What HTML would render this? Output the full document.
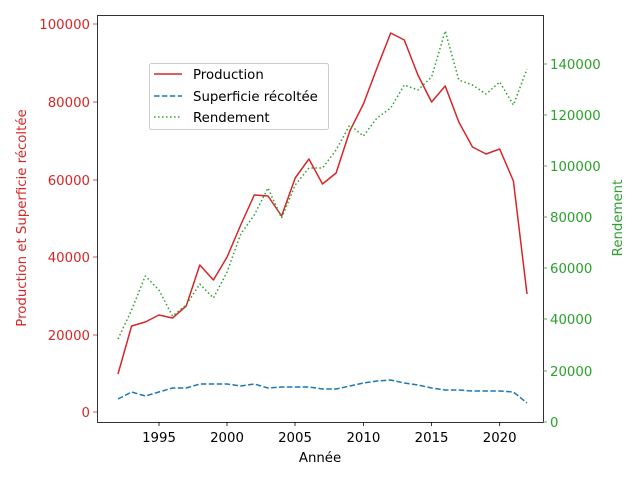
<!DOCTYPE html>
<html><head><meta charset="utf-8"><style>body{margin:0;background:#fff}svg{display:block}text{font-family:"DejaVu Sans","Liberation Sans",sans-serif;font-size:13.3px}</style></head><body>
<svg width="640" height="480" viewBox="0 0 640 480">
<rect width="640" height="480" fill="#fff"/>
<g fill="none" stroke-width="1.5" stroke-linejoin="round">
<polyline stroke="#d62728" points="118,374 131.6,326 145.3,322 158.9,315 172.5,318 186.2,306 199.8,265 213.4,280 227.1,257 240.7,225 254.3,195 268,196 281.6,216 295.2,178 308.9,159 322.5,184 336.1,173 349.8,131 363.4,104 377,68 390.7,33 404.3,40 417.9,75 431.6,102 445.2,86 458.8,122 472.5,147 486.1,154 499.7,149 513.4,181 527,294"/>
<polyline stroke="#1f77b4" stroke-dasharray="5.5,2.4" points="118,399 131.6,392 145.3,396 158.9,392 172.5,388 186.2,388 199.8,384 213.4,384 227.1,384 240.7,386 254.3,384 268,388 281.6,387 295.2,387 308.9,387 322.5,389 336.1,389 349.8,386 363.4,383 377,381 390.7,380 404.3,383 417.9,385 431.6,388 445.2,390 458.8,390 472.5,391 486.1,391 499.7,391 513.4,392 527,403"/>
<polyline stroke="#2ca02c" stroke-dasharray="1.5,2.5" points="118,339 131.6,310 145.3,276 158.9,290 172.5,316 186.2,305 199.8,284 213.4,298 227.1,272 240.7,234 254.3,215 268,188 281.6,218 295.2,185 308.9,168 322.5,168 336.1,150 349.8,125 363.4,136 377,118 390.7,108 404.3,85 417.9,90 431.6,77 445.2,31 458.8,80 472.5,85 486.1,94 499.7,82 513.4,105 527,69"/>
</g>
<rect x="97.5" y="15.5" width="446" height="407" fill="none" stroke="#000" stroke-width="0.8"/>
<g stroke="#000" stroke-width="0.8">
<line x1="159" y1="422" x2="159" y2="426"/><line x1="227" y1="422" x2="227" y2="426"/><line x1="295" y1="422" x2="295" y2="426"/><line x1="363.4" y1="422" x2="363.4" y2="426"/><line x1="431.6" y1="422" x2="431.6" y2="426"/><line x1="499.7" y1="422" x2="499.7" y2="426"/>
</g>
<g stroke="#d62728" stroke-width="0.8">
<line x1="93" y1="412" x2="97" y2="412"/><line x1="93" y1="335" x2="97" y2="335"/><line x1="93" y1="257" x2="97" y2="257"/><line x1="93" y1="180" x2="97" y2="180"/><line x1="93" y1="102" x2="97" y2="102"/><line x1="93" y1="24" x2="97" y2="24"/>
</g>
<g stroke="#2ca02c" stroke-width="0.8">
<line x1="543" y1="422" x2="547" y2="422"/><line x1="543" y1="371" x2="547" y2="371"/><line x1="543" y1="319" x2="547" y2="319"/><line x1="543" y1="268" x2="547" y2="268"/><line x1="543" y1="217" x2="547" y2="217"/><line x1="543" y1="166" x2="547" y2="166"/><line x1="543" y1="115" x2="547" y2="115"/><line x1="543" y1="64" x2="547" y2="64"/>
</g>
<g text-anchor="middle">
<text x="159" y="442">1995</text><text x="227" y="442">2000</text><text x="295" y="442">2005</text><text x="363.4" y="442">2010</text><text x="431.6" y="442">2015</text><text x="499.7" y="442">2020</text>
<text x="320" y="462">Année</text>
</g>
<g text-anchor="end" fill="#d62728">
<text x="90" y="417">0</text><text x="90" y="340">20000</text><text x="90" y="262">40000</text><text x="90" y="185">60000</text><text x="90" y="107">80000</text><text x="90" y="29">100000</text>
</g>
<g fill="#2ca02c">
<text x="550" y="427">0</text><text x="550" y="376">20000</text><text x="550" y="324">40000</text><text x="550" y="273">60000</text><text x="550" y="222">80000</text><text x="550" y="171">100000</text><text x="550" y="120">120000</text><text x="550" y="69">140000</text>
</g>
<text transform="translate(26,218) rotate(-90)" text-anchor="middle" fill="#d62728">Production et Superficie récoltée</text>
<text transform="translate(622,218) rotate(-90)" text-anchor="middle" fill="#2ca02c">Rendement</text>
<rect x="149.5" y="63.5" width="179" height="66" rx="2" fill="#fff" fill-opacity="0.8" stroke="#ccc"/>
<line x1="154" y1="74" x2="182" y2="74" stroke="#d62728" stroke-width="1.5"/>
<line x1="154" y1="96" x2="182" y2="96" stroke="#1f77b4" stroke-width="1.5" stroke-dasharray="5.5,2.4"/>
<line x1="154" y1="117" x2="182" y2="117" stroke="#2ca02c" stroke-width="1.5" stroke-dasharray="1.5,2.5"/>
<text x="193" y="79">Production</text>
<text x="193" y="101">Superficie récoltée</text>
<text x="193" y="122">Rendement</text>
</svg>
</body></html>
